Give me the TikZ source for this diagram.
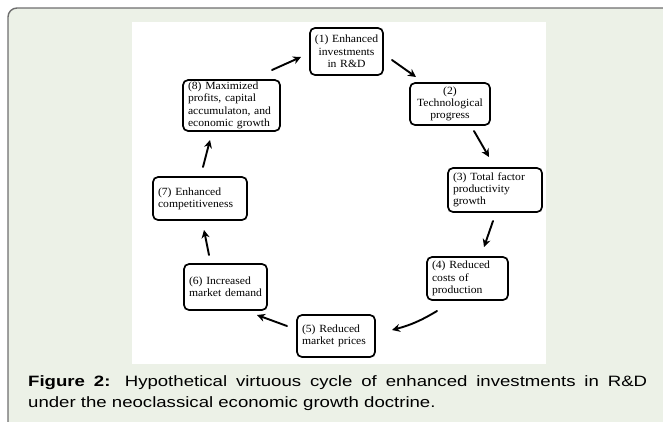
\documentclass[tikz,border=0pt]{standalone}
\usepackage{fontspec}
\setmainfont[FakeStretch=1.06]{Liberation Serif}
\newfontfamily\capfont[FakeStretch=1.24]{Liberation Sans}
\usetikzlibrary{arrows.meta}
\definecolor{panelbg}{HTML}{ECF1E7}
\definecolor{panelline}{HTML}{6E6E6E}
\hyphenpenalty=10000
\tikzset{
  cbox/.style 2 args={draw=black, line width=1.7pt, rounded corners=5pt, fill=white,
    text width=#1pt-10pt, minimum height=#2pt, inner xsep=5pt, inner ysep=2pt,
    font=\fontsize{11}{12.3}\selectfont},
  cyc/.style={line width=1.9pt, -{Stealth[length=8pt,width=8pt]}, line cap=round}
}
\begin{document}
\begin{tikzpicture}[x=1pt,y=-1pt]
\useasboundingbox (0,0) rectangle (663,421);
\clip (0,0) rectangle (663,421);
% panel
\draw[panelline, line width=1.4pt, fill=panelbg, rounded corners=9pt] (8,8) rectangle (700,460);
% figure area
\fill[white] (132,22) rectangle (546,364);
% nodes
\node[cbox={73}{47}, text width=67pt, inner xsep=3pt, align=center] (n1) at (346.5,51.5) {(1) Enhanced\\investments\\in R\&D};
\node[cbox={80}{42}, align=center] (n2) at (450,104) {(2)\\Technological\\progress};
\node[cbox={94}{44}, align=left] (n3) at (495,190) {(3) Total factor\\productivity\\growth};
\node[cbox={81}{43}, align=left] (n4) at (467.5,278.5) {(4) Reduced\\costs of\\production};
\node[cbox={78}{42}, align=left] (n5) at (336,336) {(5) Reduced\\market prices};
\node[cbox={83}{46}, align=left] (n6) at (225.5,287) {(6) Increased\\market demand};
\node[cbox={94}{43}, align=left] (n7) at (200,198.5) {(7) Enhanced\\competitiveness};
\node[cbox={97}{45}, align=left] (n8) at (231.5,105.5) {(8) Maximized\\profits, capital\\accumulaton, and\\economic growth};
% arrow end points
\coordinate (a81) at (272,70);  \coordinate (b81) at (301,57);
\coordinate (a12) at (392,60);  \coordinate (b12) at (416,77);
\coordinate (a23) at (474,131); \coordinate (b23) at (489,157);
\coordinate (a34) at (493,221); \coordinate (b34) at (484,247);
\coordinate (a45) at (437,311); \coordinate (b45) at (392,330);
\coordinate (a56) at (287,326); \coordinate (b56) at (257,315);
\coordinate (a67) at (209,255); \coordinate (b67) at (204,230);
\coordinate (a78) at (203,167); \coordinate (b78) at (210,140);
\draw[cyc] (a81) -- (b81);
\draw[cyc] (a12) -- (b12);
\draw[cyc] (a23) -- (b23);
\draw[cyc] (a34) -- (b34);
\draw[cyc] (a45) to[bend left=8] (b45);
\draw[cyc] (a56) -- (b56);
\draw[cyc] (a67) -- (b67);
\draw[cyc] (a78) -- (b78);
% caption
\node[anchor=north west, text width=619pt, align=justify, inner sep=0pt,
      font=\capfont\fontsize{15}{21}\selectfont] (cap) at (28,375)
  {\textbf{Figure 2:} Hypothetical virtuous cycle of enhanced investments in R\&D\linebreak under the neoclassical economic growth doctrine.};
\end{tikzpicture}
\end{document}
